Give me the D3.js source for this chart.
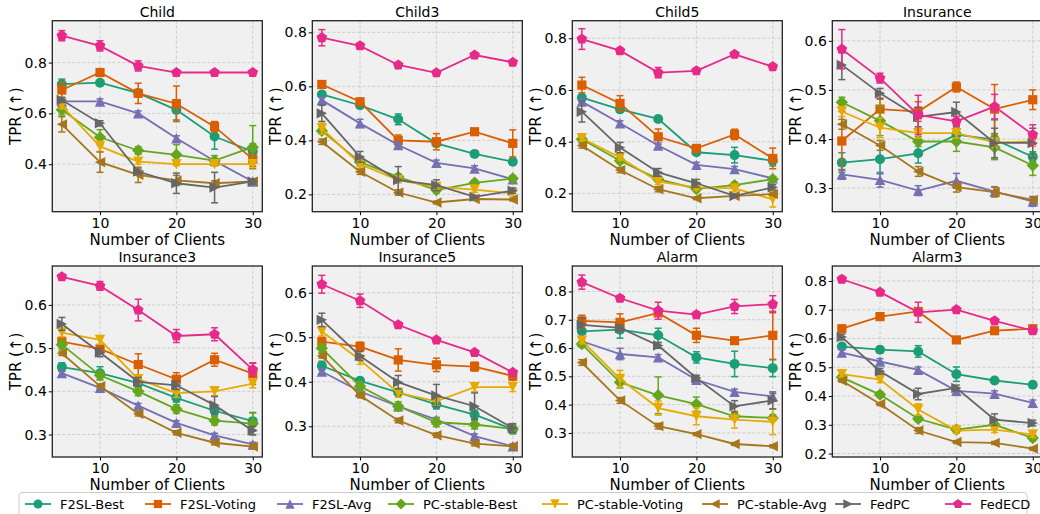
<!DOCTYPE html>
<html lang="en">
  <head>
    <meta charset="utf-8" />
    <title>TPR vs Number of Clients</title>
    <style>
      body { margin: 0; background: #fff; }
      svg { font-family: "DejaVu Sans", sans-serif; }
    </style>
  </head>
  <body>
    <div id="chart"></div>
    <script src="https://cdn.jsdelivr.net/npm/d3@7"></script>
    <script>
      // ---- data ----
      const clients = [5, 10, 15, 20, 25, 30];
      const methods = ["F2SL-Best", "F2SL-Voting", "F2SL-Avg", "PC-stable-Best",
                       "PC-stable-Voting", "PC-stable-Avg", "FedPC", "FedECD"];
      const titles = ["Child", "Child3", "Child5", "Insurance",
                      "Insurance3", "Insurance5", "Alarm", "Alarm3"];

      // one row per method, in the order of `methods`
      const child = [
        [0.715, 0.721, 0.68, 0.614, 0.509, 0.45],
        [0.692, 0.761, 0.679, 0.638, 0.548, 0.42],
        [0.647, 0.647, 0.60, 0.502, 0.413, 0.332],
        [0.614, 0.506, 0.454, 0.437, 0.414, 0.467],
        [0.63, 0.47, 0.41, 0.40, 0.40, 0.40],
        [0.557, 0.408, 0.358, 0.336, 0.325, 0.332],
        [0.653, 0.561, 0.371, 0.325, 0.308, 0.332],
        [0.906, 0.866, 0.787, 0.761, 0.761, 0.761]
      ];
      const childErr = [
        [0.02, 0.005, 0.01, 0.04, 0.05, 0.03],
        [0.03, 0.01, 0.04, 0.07, 0.02, 0.03],
        [0.01, 0.01, 0.01, 0.01, 0.005, 0.01],
        [0.02, 0.03, 0.015, 0.04, 0.02, 0.085],
        [0.01, 0.02, 0.01, 0.005, 0.005, 0.005],
        [0.03, 0.04, 0.03, 0.02, 0.01, 0.01],
        [0.01, 0.01, 0.01, 0.04, 0.06, 0.01],
        [0.02, 0.02, 0.02, 0, 0, 0]
      ];
      const child3 = [
        [0.57, 0.53, 0.478, 0.389, 0.35, 0.321],
        [0.607, 0.543, 0.40, 0.395, 0.432, 0.389],
        [0.549, 0.463, 0.383, 0.317, 0.296, 0.256],
        [0.435, 0.32, 0.265, 0.216, 0.243, 0.259],
        [0.444, 0.312, 0.253, 0.228, 0.218, 0.204],
        [0.395, 0.284, 0.207, 0.17, 0.183, 0.181],
        [0.50, 0.339, 0.253, 0.234, 0.191, 0.214],
        [0.78, 0.75, 0.679, 0.65, 0.716, 0.689]
      ];
      const child3Err = [
        [0.01, 0.01, 0.02, 0.01, 0.01, 0.01],
        [0.01, 0.01, 0.02, 0.03, 0.01, 0.05],
        [0.01, 0.015, 0.01, 0.01, 0.01, 0.005],
        [0.01, 0.01, 0.01, 0.01, 0.01, 0.01],
        [0.02, 0.01, 0.01, 0.01, 0.01, 0.01],
        [0.01, 0.01, 0.01, 0.005, 0.005, 0.005],
        [0.03, 0.02, 0.05, 0.02, 0.005, 0.01],
        [0.03, 0.01, 0.005, 0.005, 0.005, 0.005]
      ];
      const child5 = [
        [0.57, 0.525, 0.488, 0.359, 0.348, 0.326],
        [0.619, 0.548, 0.419, 0.374, 0.428, 0.335],
        [0.555, 0.471, 0.385, 0.31, 0.294, 0.258],
        [0.409, 0.326, 0.255, 0.217, 0.232, 0.255],
        [0.413, 0.339, 0.245, 0.223, 0.219, 0.177],
        [0.385, 0.29, 0.216, 0.181, 0.19, 0.197],
        [0.516, 0.377, 0.281, 0.239, 0.19, 0.223],
        [0.797, 0.752, 0.667, 0.674, 0.738, 0.69]
      ];
      const child5Err = [
        [0.01, 0.01, 0.01, 0.01, 0.03, 0.02],
        [0.03, 0.03, 0.03, 0.01, 0.02, 0.04],
        [0.01, 0.01, 0.01, 0.01, 0.01, 0.005],
        [0.01, 0.01, 0.01, 0.01, 0.01, 0.01],
        [0.01, 0.01, 0.01, 0.01, 0.01, 0.03],
        [0.01, 0.01, 0.01, 0.005, 0.005, 0.005],
        [0.04, 0.02, 0.015, 0.015, 0.005, 0.01],
        [0.04, 0.01, 0.02, 0.01, 0.01, 0.01]
      ];
      const insurance = [
        [0.352, 0.359, 0.371, 0.409, 0.399, 0.364],
        [0.396, 0.461, 0.456, 0.506, 0.461, 0.48],
        [0.328, 0.317, 0.295, 0.315, 0.293, 0.273],
        [0.475, 0.437, 0.395, 0.395, 0.383, 0.346],
        [0.456, 0.423, 0.412, 0.412, 0.393, 0.395],
        [0.43, 0.387, 0.334, 0.302, 0.292, 0.276],
        [0.551, 0.493, 0.445, 0.455, 0.392, 0.392],
        [0.583, 0.524, 0.449, 0.436, 0.466, 0.409]
      ];
      const insuranceErr = [
        [0.02, 0.03, 0.02, 0.015, 0.04, 0.01],
        [0.06, 0.02, 0.02, 0.01, 0.05, 0.02],
        [0.01, 0.015, 0.01, 0.015, 0.01, 0.01],
        [0.01, 0.03, 0.01, 0.02, 0.025, 0.02],
        [0.01, 0.02, 0.01, 0.01, 0.01, 0.01],
        [0.01, 0.01, 0.01, 0.01, 0.01, 0.005],
        [0.03, 0.01, 0.02, 0.02, 0.03, 0.03],
        [0.04, 0.01, 0.04, 0.01, 0.025, 0.02]
      ];
      const insurance3 = [
        [0.456, 0.442, 0.419, 0.385, 0.355, 0.331],
        [0.515, 0.498, 0.462, 0.428, 0.473, 0.441],
        [0.442, 0.408, 0.367, 0.327, 0.298, 0.277],
        [0.508, 0.437, 0.40, 0.359, 0.332, 0.325],
        [0.536, 0.519, 0.428, 0.396, 0.40, 0.418],
        [0.488, 0.412, 0.348, 0.304, 0.281, 0.272],
        [0.556, 0.49, 0.422, 0.414, 0.368, 0.309],
        [0.665, 0.644, 0.588, 0.528, 0.532, 0.45]
      ];
      const insurance3Err = [
        [0.01, 0.015, 0.01, 0.01, 0.01, 0.02],
        [0.01, 0.01, 0.025, 0.015, 0.015, 0.025],
        [0.005, 0.005, 0.005, 0.005, 0.005, 0.005],
        [0.01, 0.01, 0.01, 0.01, 0.01, 0.025],
        [0.01, 0.01, 0.01, 0.01, 0.01, 0.01],
        [0.005, 0.005, 0.005, 0.005, 0.005, 0.005],
        [0.015, 0.01, 0.01, 0.01, 0.02, 0.01],
        [0.005, 0.01, 0.025, 0.015, 0.015, 0.015]
      ];
      const insurance5 = [
        [0.436, 0.402, 0.376, 0.349, 0.326, 0.293],
        [0.49, 0.479, 0.449, 0.438, 0.434, 0.413],
        [0.423, 0.378, 0.345, 0.315, 0.278, 0.255],
        [0.475, 0.39, 0.345, 0.309, 0.304, 0.294],
        [0.513, 0.449, 0.375, 0.356, 0.388, 0.388],
        [0.458, 0.369, 0.313, 0.28, 0.261, 0.255],
        [0.539, 0.458, 0.399, 0.369, 0.345, 0.296],
        [0.619, 0.582, 0.528, 0.494, 0.466, 0.421]
      ];
      const insurance5Err = [
        [0.01, 0.005, 0.005, 0.01, 0.01, 0.01],
        [0.01, 0.01, 0.025, 0.015, 0.01, 0.01],
        [0.005, 0.005, 0.005, 0.005, 0.005, 0.005],
        [0.01, 0.01, 0.01, 0.01, 0.01, 0.01],
        [0.01, 0.01, 0.01, 0.01, 0.01, 0.01],
        [0.005, 0.005, 0.005, 0.005, 0.005, 0.005],
        [0.015, 0.01, 0.015, 0.025, 0.03, 0.01],
        [0.02, 0.015, 0.005, 0.005, 0.005, 0.005]
      ];
      const alarm = [
        [0.659, 0.665, 0.645, 0.567, 0.544, 0.529],
        [0.696, 0.691, 0.724, 0.645, 0.626, 0.645],
        [0.624, 0.579, 0.567, 0.488, 0.445, 0.429],
        [0.614, 0.479, 0.433, 0.402, 0.359, 0.353],
        [0.626, 0.491, 0.388, 0.359, 0.347, 0.339],
        [0.549, 0.415, 0.324, 0.296, 0.261, 0.253],
        [0.682, 0.671, 0.609, 0.494, 0.394, 0.415],
        [0.833, 0.776, 0.732, 0.718, 0.747, 0.755]
      ];
      const alarmErr = [
        [0.01, 0.03, 0.025, 0.02, 0.045, 0.03],
        [0.02, 0.03, 0.01, 0.025, 0.01, 0.085],
        [0.01, 0.02, 0.01, 0.01, 0.01, 0.01],
        [0.01, 0.02, 0.065, 0.025, 0.01, 0.01],
        [0.01, 0.03, 0.025, 0.03, 0.03, 0.045],
        [0.01, 0.01, 0.01, 0.005, 0.005, 0.005],
        [0.025, 0.01, 0.01, 0.01, 0.02, 0.03],
        [0.025, 0.01, 0.03, 0.01, 0.025, 0.03]
      ];
      const alarm3 = [
        [0.572, 0.561, 0.555, 0.476, 0.454, 0.439],
        [0.634, 0.676, 0.694, 0.595, 0.627, 0.634],
        [0.551, 0.52, 0.491, 0.418, 0.408, 0.376],
        [0.465, 0.405, 0.321, 0.283, 0.30, 0.254],
        [0.476, 0.457, 0.353, 0.28, 0.283, 0.266],
        [0.453, 0.372, 0.28, 0.24, 0.237, 0.217],
        [0.605, 0.486, 0.407, 0.428, 0.318, 0.306],
        [0.806, 0.761, 0.691, 0.70, 0.661, 0.627]
      ];
      const alarm3Err = [
        [0.01, 0.01, 0.02, 0.025, 0.01, 0.005],
        [0.01, 0.01, 0.01, 0.01, 0.01, 0.01],
        [0.01, 0.01, 0.01, 0.01, 0.01, 0.01],
        [0.01, 0.01, 0.01, 0.01, 0.01, 0.01],
        [0.01, 0.01, 0.02, 0.01, 0.01, 0.01],
        [0.005, 0.005, 0.01, 0.005, 0.005, 0.005],
        [0.01, 0.01, 0.02, 0.01, 0.02, 0.01],
        [0.01, 0.005, 0.035, 0.01, 0.01, 0.01]
      ];

      const values = [child, child3, child5, insurance, insurance3, insurance5, alarm, alarm3];
      const errors = [childErr, child3Err, child5Err, insuranceErr, insurance3Err, insurance5Err, alarmErr, alarm3Err];
      const yTicks = [
        [0.4, 0.6, 0.8], [0.2, 0.4, 0.6, 0.8], [0.2, 0.4, 0.6, 0.8], [0.3, 0.4, 0.5, 0.6],
        [0.3, 0.4, 0.5, 0.6], [0.3, 0.4, 0.5, 0.6], [0.3, 0.4, 0.5, 0.6, 0.7, 0.8],
        [0.2, 0.3, 0.4, 0.5, 0.6, 0.7, 0.8]
      ];
      const yLimits = [
        [0.213, 0.965], [0.136, 0.843], [0.129, 0.868], [0.252, 0.641],
        [0.248, 0.69], [0.231, 0.66], [0.215, 0.89], [0.188, 0.852]
      ];
      const xTicks = [10, 20, 30];

      // ---- styling ----
      const colors = ["#1b9e77", "#d95f02", "#7570b3", "#66a61e",
                      "#e6ab02", "#a6761d", "#666666", "#e7298a"];
      const markers = ["circle", "square", "tri-up", "diamond",
                       "tri-down", "tri-left", "tri-right", "pentagon"];

      const markerPath = (type) => {
        const p = d3.path();
        const poly = (pts) => {
          p.moveTo(pts[0][0], pts[0][1]);
          pts.slice(1).forEach(q => p.lineTo(q[0], q[1]));
          p.closePath();
        };
        const s = 5.2;
        switch (type) {
          case "circle": p.arc(0, 0, 5, 0, 2 * Math.PI); break;
          case "square": poly([[-4.6, -4.6], [4.6, -4.6], [4.6, 4.6], [-4.6, 4.6]]); break;
          case "tri-up": poly([[0, -s], [s, s], [-s, s]]); break;
          case "tri-down": poly([[0, s], [s, -s], [-s, -s]]); break;
          case "tri-left": poly([[-s, 0], [s, -s], [s, s]]); break;
          case "tri-right": poly([[s, 0], [-s, -s], [-s, s]]); break;
          case "diamond": poly([[0, -6.2], [6.2, 0], [0, 6.2], [-6.2, 0]]); break;
          case "pentagon": {
            const pts = d3.range(5).map(i => {
              const a = -Math.PI / 2 + i * 2 * Math.PI / 5;
              return [5.6 * Math.cos(a), 5.6 * Math.sin(a)];
            });
            poly(pts);
            break;
          }
        }
        return p.toString();
      };

      const width = 1040, height = 514;
      const panelW = 210, panelH = 191;
      const panelLeft = (c) => 52.3 + c * 260;
      const panelTop = (r) => 20.7 + r * 245.3;

      const svg = d3.select("#chart").append("svg")
        .attr("width", width).attr("height", height);

      titles.forEach((title, k) => {
        const col = k % 4, row = Math.floor(k / 4);
        const g = svg.append("g")
          .attr("transform", `translate(${panelLeft(col)},${panelTop(row)})`);

        const x = d3.scaleLinear().domain([3.75, 31.25]).range([0, panelW]);
        const y = d3.scaleLinear().domain(yLimits[k]).range([panelH, 0]);

        g.append("rect").attr("width", panelW).attr("height", panelH).attr("fill", "#f0f0f0");

        // grid
        g.selectAll(".gx").data(xTicks).enter().append("line")
          .attr("x1", d => x(d)).attr("x2", d => x(d))
          .attr("y1", 0).attr("y2", panelH)
          .attr("stroke", "#c4c4c4").attr("stroke-width", 0.8).attr("stroke-dasharray", "3,2");
        g.selectAll(".gy").data(yTicks[k]).enter().append("line")
          .attr("x1", 0).attr("x2", panelW)
          .attr("y1", d => y(d)).attr("y2", d => y(d))
          .attr("stroke", "#c4c4c4").attr("stroke-width", 0.8).attr("stroke-dasharray", "3,2");

        const plot = g.append("g");
        const line = d3.line().x((d, i) => x(clients[i])).y(d => y(d));

        methods.forEach((m, s) => {
          const vals = values[k][s], errs = errors[k][s];
          const c = colors[s];
          const sg = plot.append("g");
          // error bars
          vals.forEach((v, i) => {
            const e = errs[i];
            if (e <= 0) return;
            const cx = x(clients[i]);
            sg.append("line").attr("x1", cx).attr("x2", cx)
              .attr("y1", y(v - e)).attr("y2", y(v + e))
              .attr("stroke", c).attr("stroke-width", 1.5);
            [v - e, v + e].forEach(t => {
              sg.append("line").attr("x1", cx - 3.5).attr("x2", cx + 3.5)
                .attr("y1", y(t)).attr("y2", y(t))
                .attr("stroke", c).attr("stroke-width", 1.5);
            });
          });
          sg.append("path").datum(vals).attr("d", line)
            .attr("fill", "none").attr("stroke", c).attr("stroke-width", 1.8);
          sg.selectAll("path.mk").data(vals).enter().append("path")
            .attr("class", "mk")
            .attr("transform", (d, i) => `translate(${x(clients[i])},${y(d)})`)
            .attr("d", markerPath(markers[s]))
            .attr("fill", c);
        });

        // axes
        const xa = g.append("g").attr("transform", `translate(0,${panelH})`)
          .call(d3.axisBottom(x).tickValues(xTicks).tickSize(3.5).tickPadding(2.5));
        const ya = g.append("g")
          .call(d3.axisLeft(y).tickValues(yTicks[k]).tickFormat(d3.format(".1f")).tickSize(3.5).tickPadding(2));
        [xa, ya].forEach(a => {
          a.select(".domain").remove();
          a.selectAll("text").attr("font-size", 14).attr("fill", "#000")
            .attr("font-family", "DejaVu Sans");
          a.selectAll("line").attr("stroke", "#000").attr("stroke-width", 1);
        });

        g.append("rect").attr("width", panelW).attr("height", panelH)
          .attr("fill", "none").attr("stroke", "#222").attr("stroke-width", 1.3);

        g.append("text").attr("x", panelW / 2).attr("y", -4)
          .attr("text-anchor", "middle").attr("font-size", 14).text(title);
        g.append("text").attr("x", panelW / 2).attr("y", panelH + 33)
          .attr("text-anchor", "middle").attr("font-size", 15).text("Number of Clients");
        g.append("text")
          .attr("transform", `translate(-31,${panelH / 2}) rotate(-90)`)
          .attr("text-anchor", "middle").attr("font-size", 15).text("TPR (↑)");
      });

      // legend
      const legend = svg.append("g");
      legend.append("rect").attr("x", 19).attr("y", 492.5).attr("width", 1008).attr("height", 30)
        .attr("rx", 3).attr("fill", "#fff").attr("stroke", "#cccccc").attr("stroke-width", 1);
      const legendX = [25, 145, 277, 388, 542, 702, 835, 945];
      methods.forEach((m, s) => {
        const lg = legend.append("g").attr("transform", `translate(${legendX[s]},504)`);
        lg.append("line").attr("x1", 0).attr("x2", 26).attr("stroke", colors[s]).attr("stroke-width", 1.8);
        lg.append("path").attr("transform", "translate(13,0) scale(0.9)")
          .attr("d", markerPath(markers[s])).attr("fill", colors[s]);
        lg.append("text").attr("x", 35).attr("y", 4.5).attr("font-size", 13).text(m);
      });
    </script>
  </body>
</html>
